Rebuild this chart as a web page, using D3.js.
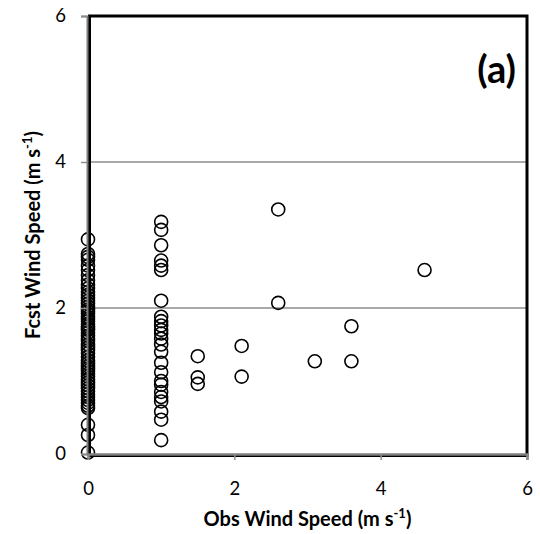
<!DOCTYPE html>
<html>
<head>
<meta charset="utf-8">
<script src="https://cdn.jsdelivr.net/npm/d3@7/dist/d3.min.js"></script>
<style>
  body { margin: 0; background: #fff; }
  text { font-family: Lato, "Open Sans", sans-serif; fill: #000; }
</style>
</head>
<body>
<div id="chart"></div>
<script>
// Observed 0 m/s column
const obsZero = [2.94, 2.74, 2.70, 2.66, 2.58, 2.52, 2.45, 2.38, 2.32, 2.27, 2.22, 2.18, 2.14, 2.10,
  2.06, 2.02, 1.98, 1.95, 1.92, 1.88, 1.85, 1.82, 1.78, 1.75, 1.72, 1.70, 1.66, 1.62, 1.58, 1.55,
  1.50, 1.46, 1.42, 1.38, 1.33, 1.28, 1.24, 1.20, 1.17, 1.14, 1.10, 1.06, 1.02, 0.98, 0.94, 0.90,
  0.86, 0.82, 0.78, 0.74, 0.70, 0.66, 0.63, 0.40, 0.26, 0.02]
// Observed 1 m/s column
const obsOne = [3.18, 3.07, 2.86, 2.65, 2.58, 2.52, 2.10, 1.88, 1.82, 1.76, 1.70, 1.65, 1.58, 1.50,
  1.40, 1.25, 1.12, 1.00, 0.95, 0.85, 0.78, 0.72, 0.58, 0.47, 0.19]
// Remaining scattered points
const otherObs = [1.5, 1.5, 1.5, 2.1, 2.1, 2.6, 2.6, 3.1, 3.6, 3.6, 4.6]
const otherFcst = [1.34, 1.05, 0.96, 1.48, 1.06, 3.35, 2.07, 1.27, 1.75, 1.27, 2.52]

const xTicks = [0, 2, 4, 6]
const yTicks = [0, 2, 4, 6]

const data = [
  ...obsZero.map(f => ({ obs: 0, fcst: f })),
  ...obsOne.map(f => ({ obs: 1, fcst: f })),
  ...otherObs.map((o, i) => ({ obs: o, fcst: otherFcst[i] }))
]

// Dimensions
const width = 540
const height = 534
const margin = { top: 16, right: 13, bottom: 80, left: 88 }
const innerWidth = width - margin.left - margin.right
const innerHeight = height - margin.top - margin.bottom

const svg = d3.select('#chart')
  .append('svg')
  .attr('width', width)
  .attr('height', height)

const g = svg.append('g')
  .attr('transform', `translate(${margin.left}, ${margin.top})`)

const xScale = d3.scaleLinear().domain([0, 6]).range([0, innerWidth])
const yScale = d3.scaleLinear().domain([0, 6]).range([innerHeight, 0])

// Horizontal gridlines
g.append('g')
  .selectAll('line')
  .data(yTicks.filter(d => d > 0 && d < 6))
  .join('line')
  .attr('x1', 0)
  .attr('x2', innerWidth)
  .attr('y1', d => yScale(d))
  .attr('y2', d => yScale(d))
  .attr('stroke', '#8c8c8c')
  .attr('stroke-width', 1.5)

// Markers
g.append('g')
  .selectAll('circle')
  .data(data)
  .join('circle')
  .attr('cx', d => xScale(d.obs))
  .attr('cy', d => yScale(d.fcst))
  .attr('r', 6.5)
  .attr('fill', 'none')
  .attr('stroke', '#000')
  .attr('stroke-width', 1.6)

// Plot border
g.append('rect')
  .attr('x', 1.5)
  .attr('y', 0)
  .attr('width', innerWidth - 1.5)
  .attr('height', innerHeight + 1.5)
  .attr('fill', 'none')
  .attr('stroke', '#000')
  .attr('stroke-width', 3)

// Bottom axis
const xAxis = g.append('g')
  .attr('transform', `translate(0, ${innerHeight})`)
  .call(d3.axisBottom(xScale).tickValues(xTicks).tickSize(6).tickPadding(22).tickFormat(d3.format('d')))
xAxis.select('.domain').attr('stroke', '#7f7f7f').attr('stroke-width', 2.5)
xAxis.selectAll('.tick line').attr('stroke', '#8c8c8c').attr('stroke-width', 1.5)
xAxis.selectAll('.tick text').style('font-size', '18.5px')

// Left axis
const yAxis = g.append('g')
  .attr('transform', 'translate(-1, 0)')
  .call(d3.axisLeft(yScale).tickValues(yTicks).tickSize(6).tickPadding(15).tickFormat(d3.format('d')))
yAxis.select('.domain').attr('stroke', '#7f7f7f').attr('stroke-width', 2)
yAxis.selectAll('.tick line').attr('stroke', '#8c8c8c').attr('stroke-width', 1.5)
yAxis.selectAll('.tick text').style('font-size', '18.5px')

// Axis titles
const xTitle = svg.append('text')
  .attr('x', margin.left + innerWidth / 2)
  .attr('y', 526)
  .attr('text-anchor', 'middle')
  .style('font-size', '20px')
  .style('font-weight', 'bold')
xTitle.append('tspan').text('Obs Wind Speed (m s')
xTitle.append('tspan').attr('dy', -8).style('font-size', '13px').text('-1')
xTitle.append('tspan').attr('dy', 8).text(')')

const yTitle = svg.append('text')
  .attr('transform', `translate(40, ${margin.top + innerHeight / 2}) rotate(-90)`)
  .attr('text-anchor', 'middle')
  .style('font-size', '20px')
  .style('font-weight', 'bold')
yTitle.append('tspan').text('Fcst Wind Speed (m s')
yTitle.append('tspan').attr('dy', -8).style('font-size', '13px').text('-1')
yTitle.append('tspan').attr('dy', 8).text(')')

// Panel label
svg.append('text')
  .attr('x', 516)
  .attr('y', 83)
  .attr('text-anchor', 'end')
  .style('font-size', '38px')
  .style('font-weight', 'bold')
  .text('(a)')
</script>
</body>
</html>
